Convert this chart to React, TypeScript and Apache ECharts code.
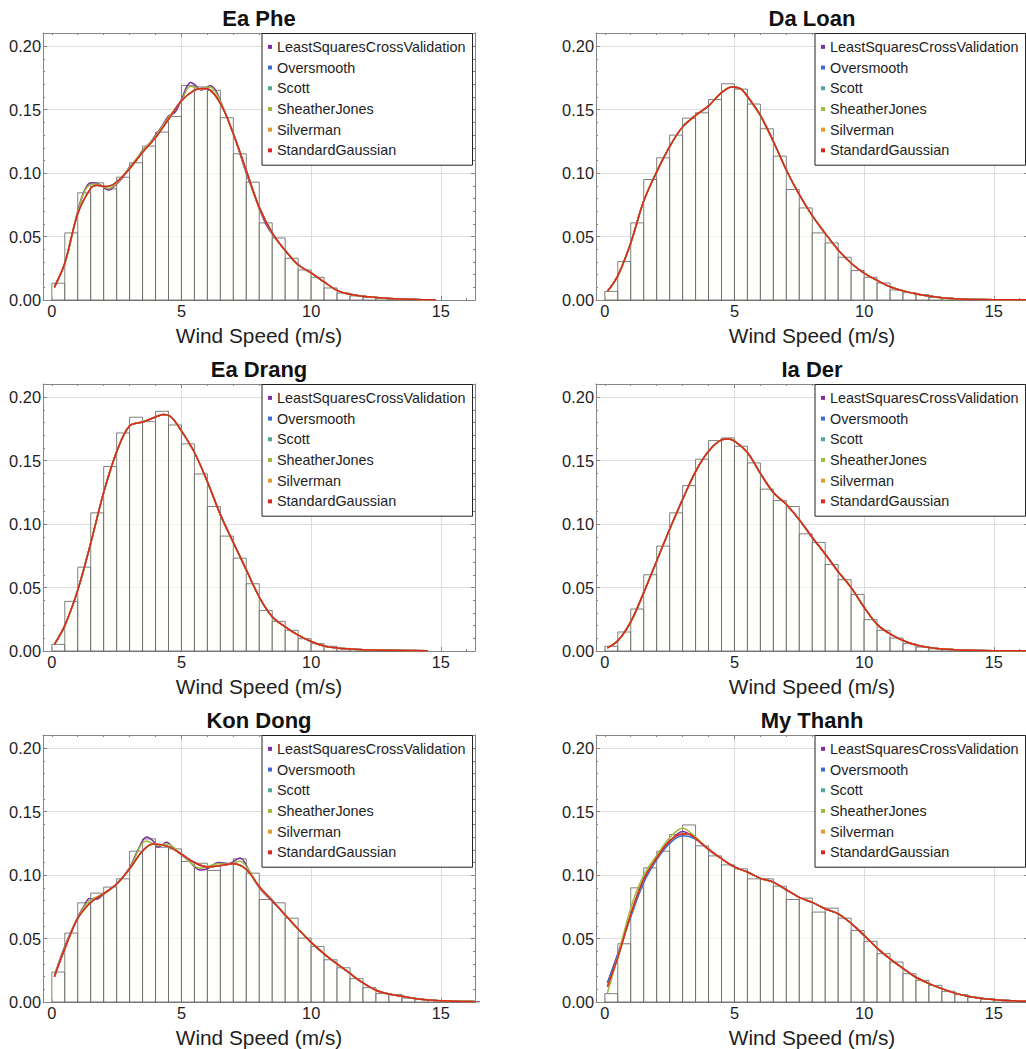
import React, { useEffect, useRef } from "react";
import * as echarts from "echarts";

// ---------- labels / categories ----------
const METHODS = [
  "LeastSquaresCrossValidation",
  "Oversmooth",
  "Scott",
  "SheatherJones",
  "Silverman",
  "StandardGaussian",
];
const STATIONS = ["Ea Phe", "Da Loan", "Ea Drang", "Ia Der", "Kon Dong", "My Thanh"];
const X_NAME = "Wind Speed (m/s)";
const X_MAJOR = [0, 5, 10, 15];
const X_GRID = [5, 10, 15];
const X_MINOR = [1, 2, 3, 4, 6, 7, 8, 9, 11, 12, 13, 14, 16];
const X_MINOR_TOP = [0, 1, 2, 3, 4, 6, 7, 8, 9, 11, 12, 13, 14, 16];
const Y_MAJOR = [0, 0.05, 0.1, 0.15, 0.2];
const Y_MINOR = [0.01, 0.02, 0.03, 0.04, 0.06, 0.07, 0.08, 0.09, 0.11, 0.12, 0.13, 0.14, 0.16, 0.17, 0.18, 0.19, 0.21];
const BIN_WIDTH = 0.5;

// ---------- histogram heights (bins of 0.5 m/s starting at 0) ----------
const eaPheBins = [0.0132, 0.0529, 0.0845, 0.0924, 0.0876, 0.0968, 0.1082, 0.1213, 0.1324, 0.1447, 0.1692, 0.168, 0.1653, 0.1437, 0.1153, 0.0929, 0.0608, 0.0489, 0.0329, 0.0237, 0.0179, 0.0095, 0.0055, 0.0032, 0.002, 0.0013, 0.0008, 0.0005, 0.0003];
const daLoanBins = [0.0068, 0.0303, 0.0608, 0.095, 0.1121, 0.13, 0.1434, 0.1476, 0.158, 0.1705, 0.1663, 0.1545, 0.135, 0.1134, 0.0871, 0.0726, 0.0529, 0.045, 0.0337, 0.0232, 0.0179, 0.0134, 0.0079, 0.0058, 0.0042, 0.002, 0.0013, 0.0008, 0.0005, 0.0003, 0.0002, 0.0001];
const eaDrangBins = [0.0052, 0.0391, 0.0661, 0.1089, 0.1454, 0.1719, 0.1843, 0.1808, 0.189, 0.1782, 0.1633, 0.1396, 0.1139, 0.0906, 0.0732, 0.053, 0.032, 0.0234, 0.0163, 0.0097, 0.0058, 0.0037, 0.0021, 0.0013, 0.0008, 0.0005, 0.0003, 0.0002];
const iaDerBins = [0.0037, 0.015, 0.0331, 0.0601, 0.0827, 0.1089, 0.1304, 0.1512, 0.1659, 0.168, 0.1614, 0.1483, 0.1276, 0.1186, 0.1139, 0.0924, 0.0856, 0.0682, 0.0562, 0.0446, 0.0247, 0.0163, 0.0102, 0.0058, 0.0031, 0.0018, 0.001, 0.0006, 0.0004, 0.0002];
const konDongBins = [0.0236, 0.0543, 0.0782, 0.0858, 0.0906, 0.0971, 0.1189, 0.1286, 0.122, 0.1207, 0.1108, 0.1094, 0.1037, 0.1094, 0.1129, 0.1016, 0.0808, 0.0782, 0.0661, 0.0504, 0.0438, 0.0333, 0.027, 0.0184, 0.0113, 0.0066, 0.006, 0.0031, 0.0021, 0.0013, 0.0008, 0.0005, 0.0003];
const myThanhBins = [0.0066, 0.0459, 0.09, 0.1058, 0.1189, 0.132, 0.1396, 0.1231, 0.1152, 0.1081, 0.105, 0.0971, 0.0971, 0.0913, 0.0808, 0.0819, 0.0709, 0.074, 0.0661, 0.0564, 0.0478, 0.0381, 0.0315, 0.0223, 0.0171, 0.0131, 0.0084, 0.0058, 0.0037, 0.0024, 0.0016, 0.001, 0.0006];

// ---------- kernel density curves [wind speed, density] ----------
const eaPheTail = [[9.5, 0.0278], [10, 0.0214], [10.5, 0.0142], [11, 0.0076], [11.5, 0.0045], [12, 0.003], [12.5, 0.002], [13, 0.0012], [13.5, 0.0007], [14, 0.0004], [14.8, 0.0001]];
const eaPheGauss = [[0.1, 0.01], [0.5, 0.029], [1, 0.068], [1.5, 0.088], [1.75, 0.0905], [2, 0.0895], [2.25, 0.09], [2.5, 0.093], [3, 0.1035], [3.5, 0.1165], [4, 0.128], [4.5, 0.1425], [5, 0.157], [5.5, 0.1655], [5.8, 0.1668], [6, 0.1665], [6.5, 0.155], [7, 0.131], [7.5, 0.102], [8, 0.073], [8.5, 0.053], [9, 0.039], ...eaPheTail];
const eaPheLscv = [[0.1, 0.011], [0.5, 0.029], [1, 0.07], [1.25, 0.086], [1.5, 0.0925], [1.75, 0.092], [2, 0.089], [2.2, 0.0865], [2.4, 0.0895], [2.75, 0.097], [3, 0.105], [3.25, 0.11], [3.5, 0.118], [3.75, 0.123], [4, 0.13], [4.25, 0.137], [4.5, 0.145], [4.75, 0.148], [5, 0.158], [5.2, 0.168], [5.35, 0.1715], [5.5, 0.17], [5.75, 0.1655], [5.95, 0.167], [6.1, 0.169], [6.3, 0.166], [6.5, 0.157], [7, 0.131], [7.5, 0.1], [7.75, 0.086], [8, 0.072], [8.25, 0.06], [8.5, 0.052], [9, 0.039], ...eaPheTail];
const eaPheSj = [[0.1, 0.0105], [0.5, 0.0285], [1, 0.069], [1.25, 0.085], [1.5, 0.091], [1.75, 0.0915], [2, 0.0895], [2.2, 0.088], [2.5, 0.092], [3, 0.1045], [3.5, 0.1175], [4, 0.129], [4.5, 0.144], [5, 0.157], [5.35, 0.1685], [5.75, 0.1662], [6.1, 0.168], [6.5, 0.1565], [7, 0.131], [7.5, 0.1015], [8, 0.0725], [8.5, 0.0525], [9, 0.039], ...eaPheTail];

const daLoanGauss = [[0.1, 0.0068], [0.5, 0.019], [1, 0.045], [1.5, 0.078], [2, 0.101], [2.5, 0.121], [3, 0.1365], [3.5, 0.1455], [4, 0.153], [4.5, 0.1635], [4.9, 0.168], [5.25, 0.1665], [5.5, 0.1605], [6, 0.1455], [6.5, 0.125], [7, 0.1025], [7.5, 0.083], [8, 0.0665], [8.5, 0.0525], [9, 0.0395], [9.5, 0.029], [10, 0.0212], [10.5, 0.0155], [11, 0.0105], [11.5, 0.0072], [12, 0.0049], [12.5, 0.0031], [13, 0.0017], [13.5, 0.0009], [14, 0.0005], [15, 0.0002], [16.3, 0.0001]];

const eaDrangGauss = [[0.1, 0.0052], [0.5, 0.02], [1, 0.048], [1.5, 0.085], [2, 0.125], [2.5, 0.157], [3, 0.1775], [3.5, 0.1805], [4, 0.1845], [4.3, 0.1865], [4.6, 0.1845], [5, 0.1735], [5.5, 0.1565], [6, 0.1335], [6.5, 0.1075], [7, 0.0855], [7.5, 0.064], [8, 0.0425], [8.5, 0.027], [9, 0.019], [9.5, 0.0125], [10, 0.0075], [10.5, 0.004], [11, 0.0024], [11.5, 0.0016], [12, 0.001], [13, 0.0005], [14.5, 0.0001]];

const iaDerGauss = [[0.1, 0.0025], [0.5, 0.008], [1, 0.023], [1.5, 0.046], [2, 0.071], [2.5, 0.096], [3, 0.1195], [3.5, 0.1415], [4, 0.1575], [4.5, 0.1665], [4.75, 0.1672], [5, 0.1655], [5.5, 0.1565], [6, 0.14], [6.5, 0.125], [7, 0.1155], [7.5, 0.1035], [8, 0.0895], [8.5, 0.0765], [9, 0.0625], [9.5, 0.05], [10, 0.0345], [10.5, 0.021], [11, 0.0135], [11.5, 0.0083], [12, 0.0047], [12.5, 0.0027], [13, 0.0016], [13.5, 0.001], [14, 0.0005], [15, 0.0002], [16.3, 0.0001]];

const konDongTail = [[9.5, 0.0575], [10, 0.047], [10.5, 0.038], [11, 0.03], [11.5, 0.0225], [12, 0.015], [12.5, 0.0093], [13, 0.0063], [13.5, 0.0045], [14, 0.0027], [14.5, 0.0016], [15, 0.001], [15.5, 0.0006], [16.3, 0.0004]];
const konDongGauss = [[0.1, 0.02], [0.5, 0.042], [1, 0.066], [1.5, 0.0785], [2, 0.0855], [2.5, 0.093], [3, 0.105], [3.5, 0.119], [3.9, 0.1245], [4.5, 0.1225], [5, 0.1165], [5.5, 0.11], [6, 0.1065], [6.5, 0.1075], [7, 0.109], [7.5, 0.1045], [8, 0.091], [8.5, 0.08], [9, 0.0685], ...konDongTail];
const konDongLscv = [[0.1, 0.021], [0.5, 0.044], [1, 0.067], [1.25, 0.076], [1.45, 0.0815], [1.7, 0.081], [2, 0.085], [2.5, 0.093], [3, 0.106], [3.3, 0.119], [3.66, 0.13], [3.9, 0.127], [4.1, 0.122], [4.43, 0.126], [4.7, 0.121], [5, 0.116], [5.3, 0.111], [5.72, 0.104], [6, 0.105], [6.43, 0.11], [6.81, 0.109], [7.26, 0.1135], [7.6, 0.104], [8, 0.09], [8.5, 0.0795], [9, 0.0685], ...konDongTail];
const konDongSj = [[0.1, 0.0205], [0.5, 0.043], [1, 0.0665], [1.45, 0.08], [2, 0.085], [2.5, 0.093], [3, 0.1055], [3.66, 0.127], [4.1, 0.1235], [4.43, 0.1245], [5, 0.1165], [5.72, 0.1055], [6.43, 0.109], [6.81, 0.1085], [7.26, 0.111], [7.6, 0.104], [8, 0.0905], [8.5, 0.08], [9, 0.0685], ...konDongTail];

const myThanhTail = [[4.5, 0.113], [5, 0.1065], [5.5, 0.1025], [6, 0.0975], [6.5, 0.0945], [7, 0.0885], [7.5, 0.0825], [8, 0.0785], [8.5, 0.0735], [9, 0.0695], [9.5, 0.062], [10, 0.0525], [10.5, 0.0425], [11, 0.034], [11.5, 0.0265], [12, 0.0195], [12.5, 0.0145], [13, 0.0105], [13.5, 0.007], [14, 0.0046], [14.5, 0.003], [15, 0.0019], [15.5, 0.0011], [16.3, 0.0006]];
const myThanhGauss = [[0.1, 0.012], [0.5, 0.035], [1, 0.069], [1.5, 0.097], [2, 0.1135], [2.5, 0.127], [3, 0.1325], [3.25, 0.1325], [3.5, 0.129], [4, 0.1205], ...myThanhTail];
const myThanhLscv = [[0.1, 0.015], [0.5, 0.038], [1, 0.068], [1.5, 0.095], [2, 0.113], [2.5, 0.1265], [3, 0.1345], [3.5, 0.1285], [4, 0.12], ...myThanhTail];
const myThanhOver = [[0.1, 0.015], [0.5, 0.037], [1, 0.067], [1.5, 0.094], [2, 0.112], [2.5, 0.125], [3, 0.131], [3.5, 0.1285], [4, 0.1205], ...myThanhTail];
const myThanhSj = [[0.1, 0.007], [0.5, 0.036], [1, 0.074], [1.5, 0.1], [2, 0.1155], [2.5, 0.1295], [3, 0.137], [3.5, 0.13], [4, 0.1205], ...myThanhTail];

// series order follows METHODS
const PANELS = [
  { name: STATIONS[0], bins: eaPheBins, curves: [eaPheLscv, eaPheGauss, eaPheGauss, eaPheSj, eaPheGauss, eaPheGauss] },
  { name: STATIONS[1], bins: daLoanBins, curves: [daLoanGauss, daLoanGauss, daLoanGauss, daLoanGauss, daLoanGauss, daLoanGauss] },
  { name: STATIONS[2], bins: eaDrangBins, curves: [eaDrangGauss, eaDrangGauss, eaDrangGauss, eaDrangGauss, eaDrangGauss, eaDrangGauss] },
  { name: STATIONS[3], bins: iaDerBins, curves: [iaDerGauss, iaDerGauss, iaDerGauss, iaDerGauss, iaDerGauss, iaDerGauss] },
  { name: STATIONS[4], bins: konDongBins, curves: [konDongLscv, konDongGauss, konDongGauss, konDongSj, konDongGauss, konDongGauss] },
  { name: STATIONS[5], bins: myThanhBins, curves: [myThanhLscv, myThanhOver, myThanhGauss, myThanhSj, myThanhGauss, myThanhGauss] },
];

// ---------- styling ----------
const COLORS = ["#7e2e9e", "#3b69d6", "#50a898", "#9dba3d", "#e69a2d", "#d8281f"];
const FONT = "'Liberation Sans', Arial, sans-serif";
const FRAME = "#858585";
const GRID_COLOR = "#dddddd";
const TEXT = "#1e1e1e";
const BAR_FILL = "rgba(253,253,248,0.7)";
const BAR_EDGE = "#606060";
const COL_LEFT = [43, 596];
const ROW_TOP = [33, 384, 735];
const GRID_W = 432;
const GRID_H = 267;
const X_MIN = -0.34;
const X_MAX = 16.32;
const Y_MAX = 0.2105;

function buildOption() {
  const grid: any[] = [];
  const xAxis: any[] = [];
  const yAxis: any[] = [];
  const series: any[] = [];
  const title: any[] = [];
  const legend: any[] = [];

  PANELS.forEach((p, i) => {
    const col = i % 2;
    const row = Math.floor(i / 2);
    grid.push({
      left: COL_LEFT[col],
      top: ROW_TOP[row],
      width: GRID_W,
      height: GRID_H,
      containLabel: false,
      outerBoundsMode: "none",
    });

    const line = { show: true, onZero: false, lineStyle: { color: FRAME, width: 1 } };
    const noLine = { show: false, onZero: false };
    const tick = (vals: number[], len: number) => ({
      show: true,
      inside: true,
      length: len,
      customValues: vals,
      lineStyle: { color: FRAME, width: 1 },
    });
    const baseX = {
      type: "value",
      gridIndex: i,
      min: X_MIN,
      max: X_MAX,
      axisLine: noLine,
      axisLabel: { show: false },
      splitLine: { show: false },
      axisTick: { show: false },
      axisPointer: { show: false },
      silent: true,
    };
    xAxis.push({
      ...baseX,
      position: "bottom",
      axisLine: line,
      axisTick: tick(X_MAJOR, 4),
      axisLabel: {
        show: true,
        customValues: X_MAJOR,
        margin: 3,
        fontSize: 16.4,
        color: TEXT,
        fontFamily: FONT,
      },
      name: X_NAME,
      nameLocation: "middle",
      nameGap: 25,
      nameTextStyle: { fontSize: 20.8, color: TEXT, fontFamily: FONT },
    });
    xAxis.push({ ...baseX, position: "bottom", axisTick: tick(X_MINOR, 2) });
    xAxis.push({
      ...baseX,
      position: "top",
      axisLine: line,
      axisTick: tick(X_GRID, 4),
      splitLine: { show: true, lineStyle: { color: GRID_COLOR, width: 1 } },
    });
    xAxis.push({ ...baseX, position: "top", axisTick: tick(X_MINOR_TOP, 2) });

    const baseY = {
      type: "value",
      gridIndex: i,
      min: 0,
      max: Y_MAX,
      axisLine: noLine,
      axisLabel: { show: false },
      splitLine: { show: false },
      axisTick: { show: false },
      axisPointer: { show: false },
      silent: true,
    };
    yAxis.push({
      ...baseY,
      position: "left",
      axisLine: line,
      axisTick: tick(Y_MAJOR, 4),
      axisLabel: {
        show: true,
        customValues: Y_MAJOR,
        margin: 2,
        fontSize: 16.4,
        color: TEXT,
        fontFamily: FONT,
        formatter: (v: number) => v.toFixed(2),
      },
      splitLine: { show: true, lineStyle: { color: GRID_COLOR, width: 1 } },
    });
    yAxis.push({ ...baseY, position: "left", axisTick: tick(Y_MINOR, 2) });
    yAxis.push({ ...baseY, position: "right", axisLine: line, axisTick: tick(Y_MAJOR, 4) });
    yAxis.push({ ...baseY, position: "right", axisTick: tick(Y_MINOR, 2) });

    series.push({
      type: "custom",
      name: p.name + " histogram",
      xAxisIndex: 4 * i,
      yAxisIndex: 4 * i,
      silent: true,
      z: 2,
      dimensions: ["from", "to", "density"],
      encode: { x: [0, 1], y: 2 },
      data: p.bins.map((h, k) => [k * BIN_WIDTH, (k + 1) * BIN_WIDTH, h]),
      renderItem: (_params: any, api: any) => {
        const x0 = api.value(0);
        const x1 = api.value(1);
        const h = api.value(2);
        const tl = api.coord([x0, h]);
        const br = api.coord([x1, 0]);
        return {
          type: "rect",
          shape: { x: tl[0], y: tl[1], width: br[0] - tl[0], height: br[1] - tl[1] },
          style: { fill: BAR_FILL, stroke: BAR_EDGE, lineWidth: 0.8 },
        };
      },
    });

    METHODS.forEach((m, j) => {
      series.push({
        type: "line",
        name: m,
        xAxisIndex: 4 * i,
        yAxisIndex: 4 * i,
        data: p.curves[j],
        smooth: 0.35,
        showSymbol: false,
        symbol: "none",
        silent: true,
        z: 3,
        lineStyle: { color: COLORS[j], width: 1.5 },
        itemStyle: { color: COLORS[j] },
      });
    });

    title.push({
      text: p.name,
      left: COL_LEFT[col] + GRID_W / 2,
      top: ROW_TOP[row] - 26,
      textAlign: "center",
      padding: 0,
      textStyle: { fontSize: 22, fontWeight: "bold", color: "#111", fontFamily: FONT },
    });

    legend.push({
      data: METHODS,
      orient: "vertical",
      left: COL_LEFT[col] + 219,
      top: ROW_TOP[row] + 0.5,
      icon: "rect",
      itemWidth: 4,
      itemHeight: 4,
      itemGap: 0,
      padding: [3, 7, 4.5, 6],
      backgroundColor: "#ffffff",
      borderColor: "#222222",
      borderWidth: 1,
      borderRadius: 0,
      selectedMode: false,
      itemStyle: { borderWidth: 0 },
      textStyle: { fontSize: 14.4, lineHeight: 20.7, color: TEXT, fontFamily: FONT },
      z: 10,
    });
  });

  return {
    animation: false,
    backgroundColor: "#ffffff",
    title,
    legend,
    grid,
    xAxis,
    yAxis,
    series,
  };
}

export default function App() {
  const ref = useRef<HTMLDivElement>(null);
  useEffect(() => {
    if (!ref.current) return;
    const chart = echarts.init(ref.current, null, { renderer: "svg" });
    chart.setOption(buildOption() as any);
    return () => chart.dispose();
  }, []);
  return (
    <div
      ref={ref}
      style={{ position: "absolute", left: 0, top: 0, width: 1026, height: 1049 }}
    />
  );
}
